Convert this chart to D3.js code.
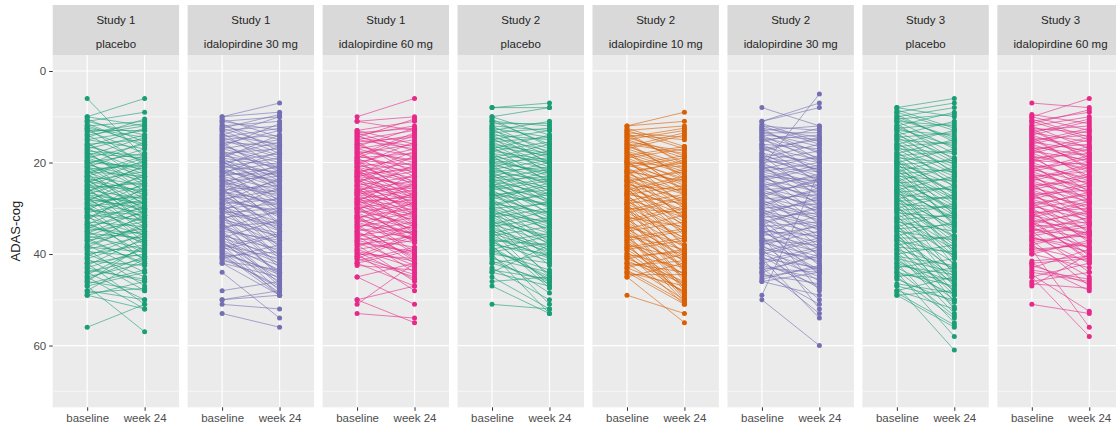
<!DOCTYPE html>
<html>
<head>
<meta charset="utf-8">
<script src="https://cdn.jsdelivr.net/npm/d3@7"></script>
<style>
  body { margin: 0; background: #fff; }
  svg { display: block; font-family: "Liberation Sans", Arial, sans-serif; }
</style>
</head>
<body>
<div id="chart"></div>
<script>
// visits on the x axis, y breaks
const visits = ["baseline", "week 24"];
const yTicks = [0, 20, 40, 60];
const yMinor = [10, 30, 50, 70];

// facet labels (study, arm)
const studies = ["Study 1", "Study 1", "Study 1", "Study 2", "Study 2", "Study 2", "Study 3", "Study 3"];
const arms = ["placebo", "idalopirdine 30 mg", "idalopirdine 60 mg", "placebo",
  "idalopirdine 10 mg", "idalopirdine 30 mg", "placebo", "idalopirdine 60 mg"];

// ADAS-cog per subject: [baseline, week 24]
const s1Placebo = [[6,19],[10,6],[11,9],[10,12],[11,14],[12,11],[12,16],[13,13],[13,18],[14,12],[14,20],[15,17],[15,13],[16,21],[16,15],[17,14],[17,22],[18,19],[18,25],[19,16],[19,23],[20,18],[20,26],[20,21],[21,24],[21,17],[21,28],[22,20],[22,27],[22,23],[23,19],[23,29],[23,25],[24,22],[24,30],[24,27],[25,21],[25,31],[25,26],[26,24],[26,33],[26,28],[27,23],[27,32],[27,29],[28,25],[28,34],[28,30],[29,27],[29,36],[29,31],[30,26],[30,35],[30,33],[31,28],[31,38],[32,30],[32,36],[32,27],[33,34],[33,40],[34,31],[34,37],[35,33],[35,41],[36,32],[36,39],[37,35],[37,42],[38,34],[38,44],[39,36],[39,47],[40,38],[40,45],[41,37],[41,48],[42,40],[42,51],[43,39],[43,46],[44,41],[44,50],[45,42],[45,52],[46,38],[46,48],[47,57],[47,44],[48,50],[48,41],[49,52],[49,46],[56,51],
  [10.5,15.5],[12.5,20.5],[14.5,10.5],[15.5,24.5],[16.5,12.5],[17.5,26.5],[18.5,14.5],[19.5,29.5],[20.5,15.5],[21.5,31.5],[22.5,18.5],[23.5,33.5],[24.5,19.5],[25.5,35.5],[26.5,20.5],[27.5,37.5],[28.5,22.5],[29.5,39.5],[30.5,24.5],[31.5,41.5],[32.5,25.5],[33.5,28.5],[34.5,29.5],[35.5,30.5],[36.5,34.5],[37.5,31.5],[38.5,33.5],[39.5,40.5],[40.5,35.5],[41.5,42.5],[42.5,36.5],[43.5,45.5],[44.5,38.5],[45.5,40.5],[46.5,43.5],[48.5,47.5],[11.5,16.5],[13.5,11.5],[17.5,18.5],[19.5,21.5],[21.5,20.5],[23.5,26.5],[25.5,24.5],[27.5,30.5],[29.5,28.5],[31.5,32.5],[33.5,37.5],[35.5,36.5],[22.5,30.5],[24.5,32.5],[26.5,29.5],[28.5,27.5],[30.5,31.5],[18.5,22.5],[20.5,23.5],[16.5,19.5],[34.5,35.5],[36.5,42.5],[38.5,39.5],[12.5,14.5]];
const s1Ida30 = [[10,7],[10,9],[11,13],[11,10],[12,15],[12,11],[13,12],[13,18],[14,16],[14,10],[15,19],[15,14],[16,13],[16,22],[17,20],[17,15],[18,24],[18,17],[19,21],[19,14],[19,26],[20,18],[20,25],[20,23],[21,27],[21,19],[21,22],[22,29],[22,24],[22,20],[23,26],[23,31],[23,21],[24,28],[24,23],[24,33],[25,27],[25,30],[25,22],[26,32],[26,25],[26,35],[27,29],[27,24],[27,34],[28,31],[28,37],[28,26],[29,33],[29,28],[29,39],[30,35],[30,29],[30,41],[31,34],[31,30],[32,38],[32,43],[32,31],[33,36],[33,45],[34,40],[34,33],[35,44],[35,37],[36,47],[36,39],[37,42],[37,48],[38,41],[38,49],[39,46],[39,36],[40,44],[40,49],[41,47],[41,38],[42,49],[42,45],[44,54],[48,46],[50,49],[51,52],[53,56],[50,48],
  [10.5,14.5],[11.5,17.5],[12.5,9.5],[13.5,21.5],[14.5,12.5],[15.5,23.5],[16.5,11.5],[17.5,25.5],[18.5,15.5],[19.5,28.5],[20.5,16.5],[21.5,30.5],[22.5,17.5],[23.5,33.5],[24.5,20.5],[25.5,36.5],[26.5,21.5],[27.5,38.5],[28.5,23.5],[29.5,40.5],[30.5,25.5],[31.5,42.5],[32.5,27.5],[33.5,44.5],[34.5,30.5],[35.5,46.5],[36.5,32.5],[37.5,45.5],[38.5,35.5],[39.5,48.5],[40.5,39.5],[41.5,43.5],[18.5,20.5],[20.5,24.5],[22.5,22.5],[24.5,26.5],[26.5,28.5],[28.5,30.5],[30.5,33.5],[32.5,35.5],[34.5,37.5],[36.5,40.5],[38.5,42.5],[40.5,47.5],[14.5,18.5],[16.5,19.5],[12.5,16.5],[21.5,25.5],[23.5,27.5],[25.5,29.5],[27.5,31.5],[29.5,34.5],[31.5,36.5],[33.5,39.5],[19.5,22.5],[17.5,21.5],[15.5,16.5],[35.5,41.5],[37.5,43.5],[39.5,44.5]];
const s1Ida60 = [[10,6],[11,10],[11,13],[13,11],[13,16],[14,12],[14,19],[15,13],[15,17],[16,14],[16,21],[17,15],[17,20],[18,16],[18,23],[19,18],[19,25],[19,14],[20,22],[20,17],[20,27],[21,19],[21,24],[21,28],[22,20],[22,26],[22,30],[23,21],[23,25],[23,29],[24,22],[24,27],[24,31],[25,23],[25,28],[25,32],[26,24],[26,30],[26,34],[27,25],[27,29],[27,33],[28,26],[28,31],[28,36],[29,27],[29,35],[29,32],[30,28],[30,34],[30,37],[31,29],[31,36],[32,30],[32,37],[32,40],[33,31],[33,37],[34,32],[34,41],[35,33],[35,42],[36,34],[36,44],[37,35],[37,40],[38,36],[38,46],[39,37],[39,43],[40,41],[40,48],[41,36],[41,45],[42,47],[42,39],[45,51],[45,42],[50,55],[51,42],[53,54],[50,47],
  [13.5,17.5],[14.5,10.5],[15.5,22.5],[16.5,12.5],[17.5,24.5],[18.5,13.5],[19.5,27.5],[20.5,15.5],[21.5,29.5],[22.5,17.5],[23.5,31.5],[24.5,18.5],[25.5,33.5],[26.5,20.5],[27.5,35.5],[28.5,22.5],[29.5,37.5],[30.5,24.5],[31.5,39.5],[32.5,26.5],[33.5,41.5],[34.5,28.5],[35.5,40.5],[36.5,30.5],[37.5,42.5],[38.5,33.5],[39.5,45.5],[40.5,35.5],[41.5,38.5],[42.5,43.5],[18.5,21.5],[20.5,23.5],[22.5,25.5],[24.5,27.5],[26.5,29.5],[28.5,31.5],[30.5,33.5],[32.5,35.5],[34.5,36.5],[36.5,38.5],[14.5,16.5],[16.5,18.5],[19.5,20.5],[21.5,24.5],[23.5,26.5],[25.5,28.5],[27.5,30.5],[29.5,32.5],[31.5,34.5],[33.5,35.5],[15.5,14.5],[17.5,19.5],[35.5,37.5],[37.5,39.5],[39.5,41.5],[13.5,12.5],[40.5,44.5],[26.5,25.5],[28.5,27.5],[22.5,21.5]];
const s2Placebo = [[8,8],[8,7],[10,14],[10,8],[11,12],[11,16],[12,13],[12,18],[13,11],[13,17],[14,15],[14,20],[15,13],[15,19],[16,18],[16,22],[17,14],[17,21],[18,20],[18,24],[19,16],[19,23],[20,19],[20,25],[20,22],[21,18],[21,27],[22,24],[22,21],[22,29],[23,20],[23,26],[24,23],[24,30],[24,27],[25,22],[25,31],[25,28],[26,24],[26,33],[27,26],[27,32],[27,29],[28,25],[28,35],[29,31],[29,27],[30,34],[30,29],[30,38],[31,33],[31,41],[32,30],[32,37],[33,36],[33,45],[34,32],[34,40],[35,39],[35,47],[36,34],[36,41],[37,46],[37,38],[38,40],[38,51],[39,36],[39,45],[40,42],[40,53],[42,46],[42,40],[43,50],[44,47],[44,38],[45,52],[46,45],[47,53],[51,52],[41,44],
  [10.5,16.5],[11.5,11.5],[12.5,20.5],[13.5,12.5],[14.5,22.5],[15.5,14.5],[16.5,24.5],[17.5,15.5],[18.5,26.5],[19.5,17.5],[20.5,28.5],[21.5,19.5],[22.5,31.5],[23.5,21.5],[24.5,33.5],[25.5,23.5],[26.5,35.5],[27.5,24.5],[28.5,37.5],[29.5,26.5],[30.5,39.5],[31.5,28.5],[32.5,42.5],[33.5,30.5],[34.5,44.5],[35.5,32.5],[36.5,47.5],[37.5,35.5],[38.5,45.5],[39.5,37.5],[40.5,48.5],[18.5,21.5],[20.5,23.5],[22.5,25.5],[24.5,28.5],[26.5,29.5],[28.5,32.5],[30.5,34.5],[32.5,36.5],[34.5,38.5],[36.5,40.5],[14.5,17.5],[16.5,18.5],[19.5,22.5],[21.5,24.5],[23.5,27.5],[25.5,29.5],[27.5,31.5],[29.5,33.5],[31.5,35.5],[33.5,37.5],[12.5,14.5],[13.5,18.5],[15.5,20.5],[17.5,19.5],[35.5,39.5],[37.5,41.5],[39.5,43.5],[41.5,46.5],[43.5,45.5]];
const s2Ida10 = [[12,9],[12,11],[13,12],[13,17],[14,15],[14,20],[15,13],[15,19],[16,18],[16,23],[17,14],[17,21],[18,22],[18,26],[19,17],[19,24],[20,21],[20,27],[20,25],[21,19],[21,29],[22,24],[22,30],[22,20],[23,27],[23,32],[24,22],[24,28],[24,34],[25,26],[25,31],[25,36],[26,23],[26,33],[27,29],[27,38],[27,25],[28,32],[28,40],[29,27],[29,35],[29,42],[30,31],[30,44],[31,28],[31,37],[32,34],[32,46],[33,30],[33,41],[34,38],[34,48],[35,33],[35,43],[36,39],[36,50],[37,35],[37,45],[38,41],[38,49],[39,37],[39,47],[40,43],[40,51],[41,39],[41,46],[42,44],[42,50],[43,40],[43,48],[44,47],[44,51],[45,55],[45,42],[49,53],
  [12.5,16.5],[13.5,20.5],[14.5,12.5],[15.5,23.5],[16.5,13.5],[17.5,26.5],[18.5,16.5],[19.5,29.5],[20.5,18.5],[21.5,32.5],[22.5,19.5],[23.5,35.5],[24.5,21.5],[25.5,38.5],[26.5,23.5],[27.5,40.5],[28.5,25.5],[29.5,43.5],[30.5,27.5],[31.5,45.5],[32.5,29.5],[33.5,47.5],[34.5,31.5],[35.5,49.5],[36.5,34.5],[37.5,50.5],[38.5,36.5],[39.5,48.5],[40.5,39.5],[41.5,46.5],[42.5,41.5],[43.5,50.5],[44.5,44.5],[18.5,22.5],[20.5,24.5],[22.5,26.5],[24.5,29.5],[26.5,31.5],[28.5,34.5],[30.5,36.5],[32.5,39.5],[34.5,41.5],[36.5,44.5],[38.5,46.5],[40.5,48.5],[14.5,18.5],[16.5,20.5],[19.5,23.5],[21.5,25.5],[23.5,28.5],[25.5,30.5],[27.5,33.5],[29.5,36.5],[31.5,38.5],[33.5,40.5],[35.5,42.5],[37.5,44.5],[13.5,14.5],[15.5,17.5],[17.5,21.5]];
const s2Ida30 = [[8,12],[21,5],[11,8],[11,7],[12,13],[12,16],[13,12],[13,18],[14,15],[14,20],[15,14],[15,19],[16,17],[16,22],[17,15],[17,21],[18,20],[18,24],[19,16],[19,23],[20,19],[20,26],[21,22],[21,27],[22,20],[22,25],[23,24],[23,29],[24,21],[24,28],[25,23],[25,31],[26,25],[26,30],[27,24],[27,33],[28,27],[28,35],[29,26],[29,32],[30,29],[30,37],[31,28],[31,34],[32,31],[32,39],[33,30],[33,48],[34,33],[34,40],[35,36],[35,42],[36,34],[36,52],[37,38],[37,44],[38,35],[38,46],[39,41],[39,50],[40,37],[40,45],[41,43],[41,54],[42,39],[42,47],[43,44],[43,53],[44,40],[44,51],[45,43],[46,49],[49,22],[50,60],[46,44],
  [11.5,15.5],[12.5,19.5],[13.5,13.5],[14.5,22.5],[15.5,12.5],[16.5,24.5],[17.5,14.5],[18.5,27.5],[19.5,17.5],[20.5,29.5],[21.5,18.5],[22.5,31.5],[23.5,20.5],[24.5,33.5],[25.5,22.5],[26.5,36.5],[27.5,23.5],[28.5,38.5],[29.5,25.5],[30.5,40.5],[31.5,27.5],[32.5,42.5],[33.5,29.5],[34.5,44.5],[35.5,31.5],[36.5,43.5],[37.5,33.5],[38.5,41.5],[39.5,36.5],[40.5,47.5],[41.5,38.5],[42.5,45.5],[43.5,40.5],[44.5,46.5],[45.5,42.5],[18.5,21.5],[20.5,23.5],[22.5,25.5],[24.5,27.5],[26.5,29.5],[28.5,31.5],[30.5,33.5],[32.5,35.5],[34.5,37.5],[36.5,39.5],[14.5,17.5],[16.5,19.5],[19.5,21.5],[21.5,24.5],[23.5,26.5],[25.5,28.5],[27.5,30.5],[29.5,32.5],[31.5,34.5],[33.5,36.5],[35.5,38.5],[37.5,40.5],[12.5,14.5],[13.5,16.5],[39.5,43.5]];
const s3Placebo = [[8,6],[8,10],[9,7],[9,13],[10,8],[10,15],[11,12],[11,17],[12,9],[12,18],[13,14],[13,20],[14,11],[14,19],[15,16],[15,22],[16,13],[16,21],[17,18],[17,24],[18,15],[18,23],[19,20],[19,27],[20,17],[20,25],[21,22],[21,29],[22,19],[22,28],[23,24],[23,31],[24,21],[24,30],[25,26],[25,33],[26,23],[26,32],[27,28],[27,35],[28,25],[28,34],[29,30],[29,38],[30,27],[30,36],[31,32],[31,41],[32,29],[32,39],[33,35],[33,44],[34,31],[34,42],[35,37],[35,47],[36,33],[36,45],[37,40],[37,49],[38,36],[38,52],[39,43],[39,48],[40,38],[40,53],[41,44],[41,50],[42,46],[42,55],[43,41],[43,49],[44,47],[44,58],[45,43],[45,54],[47,50],[47,61],[48,45],[48,52],[49,48],[49,56],[26,40],[20,34],
  [8.5,12.5],[9.5,15.5],[10.5,9.5],[11.5,19.5],[12.5,11.5],[13.5,22.5],[14.5,13.5],[15.5,25.5],[16.5,15.5],[17.5,28.5],[18.5,17.5],[19.5,31.5],[20.5,19.5],[21.5,33.5],[22.5,21.5],[23.5,36.5],[24.5,23.5],[25.5,39.5],[26.5,25.5],[27.5,42.5],[28.5,27.5],[29.5,44.5],[30.5,29.5],[31.5,46.5],[32.5,31.5],[33.5,48.5],[34.5,33.5],[35.5,50.5],[36.5,36.5],[37.5,46.5],[38.5,39.5],[39.5,51.5],[40.5,42.5],[41.5,47.5],[42.5,44.5],[43.5,53.5],[44.5,45.5],[45.5,50.5],[46.5,48.5],[48.5,55.5],[18.5,24.5],[20.5,26.5],[22.5,29.5],[24.5,31.5],[26.5,34.5],[28.5,36.5],[30.5,38.5],[32.5,40.5],[34.5,43.5],[36.5,45.5],[14.5,20.5],[16.5,22.5],[10.5,14.5],[12.5,16.5],[19.5,26.5],[21.5,27.5],[23.5,30.5],[25.5,32.5],[27.5,37.5],[29.5,40.5]];
const s3Ida60 = [[7,8],[10,6],[10,13],[11,9],[11,15],[12,10],[12,17],[13,12],[13,19],[14,11],[14,18],[15,14],[15,21],[16,13],[16,20],[17,16],[17,23],[18,15],[18,22],[19,18],[19,25],[20,17],[20,24],[21,20],[21,27],[22,19],[22,26],[23,22],[23,29],[24,21],[24,28],[25,24],[25,31],[26,23],[26,30],[27,26],[27,33],[28,25],[28,32],[29,27],[29,35],[30,28],[30,37],[31,30],[31,39],[32,29],[32,36],[33,31],[33,41],[34,33],[34,40],[35,32],[35,44],[36,34],[36,42],[37,36],[37,47],[38,35],[38,45],[39,38],[39,56],[40,37],[40,43],[42,41],[42,48],[43,39],[44,46],[45,42],[45,58],[46,44],[47,40],[51,53],
  [10.5,14.5],[11.5,8.5],[12.5,19.5],[13.5,10.5],[14.5,21.5],[15.5,12.5],[16.5,23.5],[17.5,14.5],[18.5,26.5],[19.5,16.5],[20.5,28.5],[21.5,18.5],[22.5,31.5],[23.5,20.5],[24.5,33.5],[25.5,22.5],[26.5,35.5],[27.5,24.5],[28.5,37.5],[29.5,26.5],[30.5,40.5],[31.5,28.5],[32.5,41.5],[33.5,30.5],[34.5,38.5],[35.5,33.5],[36.5,39.5],[37.5,35.5],[38.5,41.5],[39.5,37.5],[41.5,40.5],[42.5,46.5],[43.5,45.5],[44.5,52.5],[46.5,47.5],[18.5,21.5],[20.5,23.5],[22.5,25.5],[24.5,27.5],[26.5,29.5],[28.5,31.5],[30.5,33.5],[32.5,35.5],[34.5,36.5],[36.5,38.5],[14.5,16.5],[16.5,18.5],[19.5,20.5],[21.5,24.5],[23.5,26.5],[25.5,28.5],[27.5,30.5],[29.5,32.5],[31.5,34.5],[33.5,35.5],[12.5,13.5],[13.5,15.5],[15.5,17.5],[17.5,19.5],[9.5,11.5]];

const panelData = [s1Placebo, s1Ida30, s1Ida60, s2Placebo, s2Ida10, s2Ida30, s3Placebo, s3Ida60];

// one colour per arm (Dark2)
const armColor = {
  "placebo": "#1B9E77",
  "idalopirdine 10 mg": "#D95F02",
  "idalopirdine 30 mg": "#7570B3",
  "idalopirdine 60 mg": "#E7298A"
};

const W = 1116, H = 433;
const panelLeft = 52.7, panelStep = 134.95, panelW = 126.4;
const stripTop = 5, stripH = 50;
const plotTop = 55, plotBottom = 407.3;

const svg = d3.select("#chart").append("svg")
  .attr("width", W)
  .attr("height", H);

// shared y scale, 0 on top (limits 0..70 with ggplot's 5% expansion)
const y = d3.scaleLinear().domain([-3.5, 73.5]).range([plotTop, plotBottom]);

for (let i = 0; i < panelData.length; i++) {
  const x0 = panelLeft + i * panelStep;
  const x = d3.scalePoint().domain(visits).range([x0, x0 + panelW]).padding(0.6);
  const color = armColor[arms[i]];
  const g = svg.append("g");

  // strip
  g.append("rect")
    .attr("x", x0).attr("y", stripTop)
    .attr("width", panelW).attr("height", stripH)
    .attr("fill", "#D9D9D9");
  g.append("text")
    .attr("x", x0 + panelW / 2).attr("y", 19.5)
    .attr("text-anchor", "middle").attr("dominant-baseline", "central")
    .attr("font-size", "11.5px").attr("fill", "#262626")
    .text(studies[i]);
  g.append("text")
    .attr("x", x0 + panelW / 2).attr("y", 44)
    .attr("text-anchor", "middle").attr("dominant-baseline", "central")
    .attr("font-size", "11.5px").attr("fill", "#262626")
    .text(arms[i]);

  // panel background + grid
  g.append("rect")
    .attr("x", x0).attr("y", plotTop)
    .attr("width", panelW).attr("height", plotBottom - plotTop)
    .attr("fill", "#EBEBEB");
  g.selectAll(".minor").data(yMinor).enter().append("line")
    .attr("x1", x0).attr("x2", x0 + panelW)
    .attr("y1", d => y(d)).attr("y2", d => y(d))
    .attr("stroke", "#fff").attr("stroke-width", 0.6);
  g.selectAll(".major").data(yTicks).enter().append("line")
    .attr("x1", x0).attr("x2", x0 + panelW)
    .attr("y1", d => y(d)).attr("y2", d => y(d))
    .attr("stroke", "#fff").attr("stroke-width", 1.2);
  g.selectAll(".vgrid").data(visits).enter().append("line")
    .attr("x1", d => x(d)).attr("x2", d => x(d))
    .attr("y1", plotTop).attr("y2", plotBottom)
    .attr("stroke", "#fff").attr("stroke-width", 1.2);

  // subject lines then points
  const subj = panelData[i];
  g.selectAll(".subj").data(subj).enter().append("line")
    .attr("x1", x(visits[0])).attr("x2", x(visits[1]))
    .attr("y1", d => y(d[0])).attr("y2", d => y(d[1]))
    .attr("stroke", color).attr("stroke-opacity", 0.6).attr("stroke-width", 1);
  const pts = [];
  subj.forEach(d => { pts.push([visits[0], d[0]]); pts.push([visits[1], d[1]]); });
  g.selectAll(".pt").data(pts).enter().append("circle")
    .attr("cx", d => x(d[0])).attr("cy", d => y(d[1]))
    .attr("r", 2.5).attr("fill", color);

  // x axis
  const xa = g.append("g")
    .attr("transform", `translate(0,${plotBottom})`)
    .call(d3.axisBottom(x).tickSize(3.5).tickPadding(3));
  xa.select(".domain").remove();
  xa.selectAll(".tick line").attr("stroke", "#333");
  xa.selectAll(".tick text").attr("fill", "#4D4D4D").attr("font-size", "11.5px")
    .attr("font-family", "Liberation Sans, Arial, sans-serif");
}

// y axis on the first panel
const ya = svg.append("g")
  .attr("transform", `translate(${panelLeft},0)`)
  .call(d3.axisLeft(y).tickValues(yTicks).tickSize(3.5).tickPadding(3));
ya.select(".domain").remove();
ya.selectAll(".tick line").attr("stroke", "#333");
ya.selectAll(".tick text").attr("fill", "#4D4D4D").attr("font-size", "11.5px")
  .attr("font-family", "Liberation Sans, Arial, sans-serif");

svg.append("text")
  .attr("transform", `translate(15,${(plotTop + plotBottom) / 2}) rotate(-90)`)
  .attr("text-anchor", "middle").attr("dominant-baseline", "central")
  .attr("font-size", "13px").attr("fill", "#1A1A1A")
  .text("ADAS-cog");
</script>
</body>
</html>
